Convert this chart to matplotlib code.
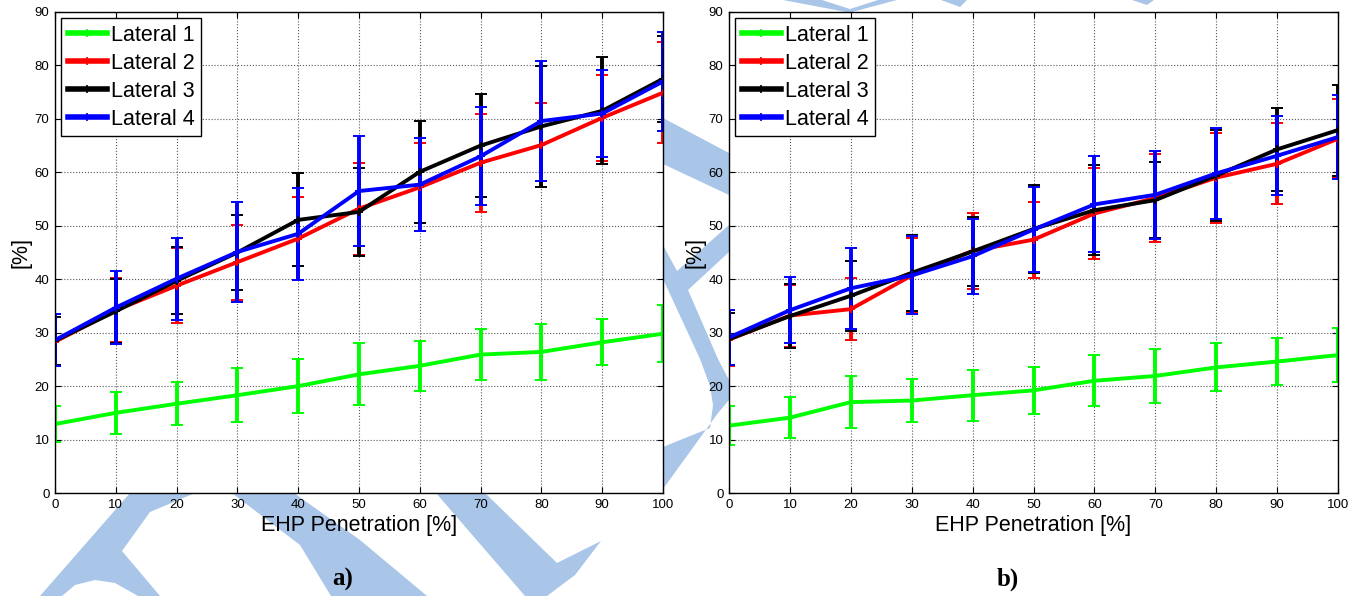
import matplotlib
matplotlib.use('Agg')
import matplotlib.pyplot as plt
from matplotlib.lines import Line2D
from matplotlib.patches import Polygon

plt.rcParams['font.family'] = ['Liberation Sans', 'DejaVu Sans']

W, H = 1359, 596

pen = [0, 10, 20, 30, 40, 50, 60, 70, 80, 90, 100]
labels = ["Lateral 1", "Lateral 2", "Lateral 3", "Lateral 4"]
colors = ["#00ff00", "#ff0000", "#000000", "#0000ff"]

#################### a) ####################
a_l1 = [12.9, 15.0, 16.7, 18.3, 20.0, 22.2, 23.8, 25.9, 26.4, 28.2, 29.8]
a_l1_err = [3.4, 3.9, 4.0, 5.1, 5.0, 5.8, 4.7, 4.7, 5.3, 4.3, 5.3]
a_l2 = [28.3, 34.2, 38.8, 43.2, 47.6, 53.2, 57.2, 61.8, 65.1, 70.2, 74.9]
a_l2_err = [4.6, 6.0, 7.0, 7.0, 7.7, 8.6, 8.2, 9.2, 7.8, 8.1, 9.5]
a_l3 = [28.5, 34.0, 39.7, 45.0, 51.1, 52.6, 60.1, 65.0, 68.6, 71.5, 77.5]
a_l3_err = [4.5, 6.0, 6.3, 7.0, 8.7, 8.2, 9.5, 9.6, 11.3, 10.0, 8.1]
a_l4 = [28.6, 34.7, 40.1, 45.1, 48.5, 56.5, 57.7, 63.0, 69.6, 71.0, 77.0]
a_l4_err = [4.9, 6.8, 7.7, 9.4, 8.6, 10.3, 8.7, 9.2, 11.3, 8.2, 9.3]

#################### b) ####################
b_l1 = [12.6, 14.1, 17.0, 17.3, 18.3, 19.2, 21.0, 21.9, 23.5, 24.6, 25.8]
b_l1_err = [3.6, 3.9, 4.8, 4.0, 4.8, 4.4, 4.8, 5.1, 4.5, 4.4, 5.0]
b_l2 = [28.7, 33.2, 34.4, 40.7, 45.3, 47.4, 52.3, 55.2, 59.0, 61.6, 66.3]
b_l2_err = [5.0, 5.8, 5.8, 7.1, 7.1, 7.1, 8.5, 8.3, 8.4, 7.6, 7.4]
b_l3 = [28.8, 33.1, 36.9, 41.2, 45.2, 49.4, 52.9, 54.8, 59.4, 64.3, 67.9]
b_l3_err = [4.8, 6.0, 6.6, 7.1, 6.4, 8.3, 8.4, 7.1, 8.5, 7.8, 8.5]
b_l4 = [29.1, 34.2, 38.3, 40.7, 44.3, 49.3, 54.0, 55.8, 59.8, 63.1, 66.6]
b_l4_err = [5.2, 6.2, 7.6, 7.3, 7.0, 7.9, 9.0, 8.2, 8.5, 7.4, 7.9]

fig = plt.figure(figsize=(W / 100, H / 100), dpi=100)


def px(pts):
    # pixel coords (from top-left) -> figure fraction
    return [(x / W, 1 - y / H) for x, y in pts]


# light blue watermark behind the plots
wm_color = "#a9c6e8"
watermark = [
    [(40, 596), (130, 493), (195, 493), (150, 512), (122, 551), (160, 596),
     (138, 596), (115, 583), (95, 580), (75, 585), (62, 596)],
    [(232, 493), (294, 493), (360, 540), (427, 596), (331, 596), (300, 545)],
    [(436, 493), (485, 493), (557, 563), (601, 541), (575, 575), (547, 596), (525, 596)],
    [(663, 118), (729, 153), (729, 195), (663, 164)],
    [(663, 245), (677, 271), (729, 225), (729, 252), (688, 290), (718, 359),
     (729, 380), (729, 400), (718, 413), (663, 489), (663, 447), (690, 436),
     (710, 428), (713, 405), (710, 386), (700, 359), (663, 279)],
    [(783, 0), (822, 0), (850, 9), (878, 0), (897, 0), (852, 12), (846, 12)],
    [(941, 0), (967, 0), (960, 7)],
    [(1132, 0), (1154, 0), (1147, 5)],
]
for poly in watermark:
    fig.add_artist(Polygon(px(poly), closed=True, facecolor=wm_color,
                           edgecolor='none', transform=fig.transFigure, zorder=-5))


def draw_panel(ax, series, tag, tag_x):
    for (y, e), c in zip(series, colors):
        ax.errorbar(pen, y, yerr=e, color=c, lw=2.8, elinewidth=2.8,
                    capsize=4.5, capthick=3.0, marker='+', ms=6, mew=1.4)
    ax.set_xlim(0, 100)
    ax.set_ylim(0, 90)
    ax.set_xticks(range(0, 101, 10))
    ax.set_yticks(range(0, 91, 10))
    ax.grid(True, linestyle=':', color='0.35', lw=0.8)
    ax.tick_params(direction='in', top=True, right=True, length=4,
                   labelsize=9.5, pad=4)
    for s in ax.spines.values():
        s.set_linewidth(1.0)
    ax.set_xlabel("EHP Penetration [%]", fontsize=15.5, labelpad=3)
    ax.set_ylabel("[%]", fontsize=15.5, labelpad=2)
    handles = [Line2D([], [], color=c, lw=4, marker='+', ms=6, mew=1.2) for c in colors]
    leg = ax.legend(handles, labels, loc='upper left', fontsize=15.5,
                    handlelength=1.8, handletextpad=0.2, borderpad=0.3,
                    labelspacing=0.32, borderaxespad=0.3, fancybox=False,
                    framealpha=1, edgecolor='black')
    leg.get_frame().set_linewidth(1.0)
    fig.text(tag_x / W, 1 - 579 / H, tag, ha='center', va='center',
             fontsize=18, fontweight='bold', family='Liberation Serif')


ax1 = fig.add_axes([55 / W, 1 - 493 / H, (663 - 55) / W, (493 - 12) / H])
draw_panel(ax1, [(a_l1, a_l1_err), (a_l2, a_l2_err), (a_l3, a_l3_err), (a_l4, a_l4_err)],
           "a)", 343)

ax2 = fig.add_axes([729 / W, 1 - 493 / H, (1338 - 729) / W, (493 - 12) / H])
draw_panel(ax2, [(b_l1, b_l1_err), (b_l2, b_l2_err), (b_l3, b_l3_err), (b_l4, b_l4_err)],
           "b)", 1008)

fig.savefig("out.png", dpi=100)
